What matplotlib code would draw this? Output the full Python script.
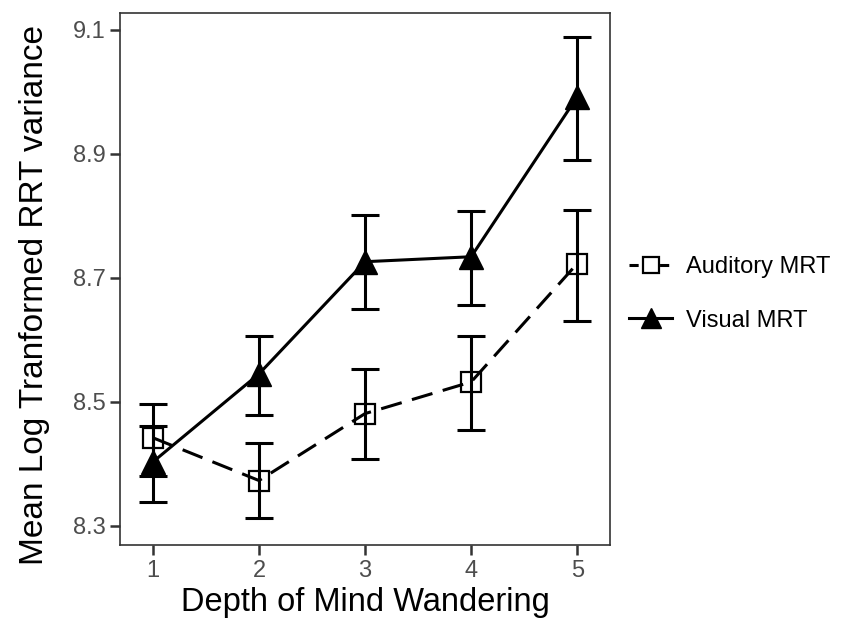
import matplotlib
matplotlib.use("Agg")
import matplotlib.pyplot as plt
from matplotlib.lines import Line2D

plt.rcParams['font.family'] = ['Liberation Sans', 'DejaVu Sans']

# data
depth = [1, 2, 3, 4, 5]
auditory = [8.442, 8.373, 8.481, 8.532, 8.723]
auditory_lo = [8.381, 8.313, 8.408, 8.455, 8.631]
auditory_hi = [8.461, 8.434, 8.553, 8.606, 8.810]
visual = [8.403, 8.545, 8.726, 8.734, 8.992]
visual_lo = [8.339, 8.479, 8.650, 8.656, 8.890]
visual_hi = [8.497, 8.606, 8.802, 8.808, 9.089]
yticks = [8.3, 8.5, 8.7, 8.9, 9.1]

fig = plt.figure(figsize=(8.48, 6.25), dpi=100)
ax = fig.add_axes([0.1415, 0.128, 0.578, 0.851])

def err(vals, lo, hi):
    return [[v - l for v, l in zip(vals, lo)], [h - v for v, h in zip(vals, hi)]]

dash = (0, (7, 3.5))
ax.errorbar(depth, auditory, yerr=err(auditory, auditory_lo, auditory_hi),
            fmt='none', ecolor='black', elinewidth=2.2, capsize=10, capthick=2.2, zorder=2)
ax.errorbar(depth, visual, yerr=err(visual, visual_lo, visual_hi),
            fmt='none', ecolor='black', elinewidth=2.2, capsize=10, capthick=2.2, zorder=2)
ax.plot(depth, auditory, color='black', lw=2.2, ls=dash, zorder=3)
ax.plot(depth, visual, color='black', lw=2.2, zorder=3)
ax.plot(depth, auditory, ls='none', marker='s', ms=14, mfc='none', mec='black', mew=1.6, zorder=4)
ax.plot(depth, visual, ls='none', marker='^', ms=17, mfc='black', mec='black', zorder=4)

ax.set_xlim(0.69, 5.31)
ax.set_ylim(8.269, 9.127)
ax.set_xticks(depth)
ax.set_yticks(yticks)
ax.set_yticklabels([f"{t:.1f}" for t in yticks])
ax.tick_params(axis='both', labelsize=17, labelcolor='#4D4D4D', color='#333333',
               width=1.8, length=7)
for s in ax.spines.values():
    s.set_color('#333333')
    s.set_linewidth(1.2)

ax.set_xlabel("Depth of Mind Wandering", fontsize=23.5, labelpad=4)
ax.set_ylabel("Mean Log Tranformed RRT variance", fontsize=24)
ax.yaxis.set_label_coords(-0.143, 0.47)

handles = [
    Line2D([0], [0], color='black', lw=2.2, ls=(0, (3, 2)), marker='s', ms=12,
           mfc='white', mec='black', mew=1.6),
    Line2D([0], [0], color='black', lw=2.2, marker='^', ms=15, mfc='black', mec='black'),
]
fig.legend(handles, ["Auditory MRT", "Visual MRT"], loc='center left',
           bbox_to_anchor=(0.717, 0.53), frameon=False, fontsize=17,
           handlelength=1.8, labelspacing=1.35, handletextpad=0.6)

fig.savefig("out.png", dpi=100)
